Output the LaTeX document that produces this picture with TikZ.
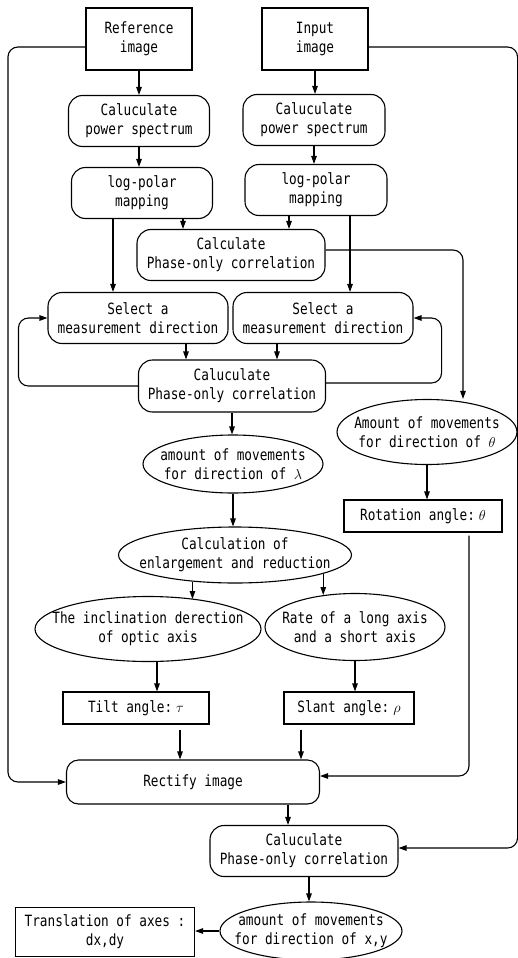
\documentclass[tikz,border=0pt]{standalone}
\usepackage{fontspec}
\newfontfamily\gothic[FakeStretch=0.82]{DejaVu Sans Mono}
\usetikzlibrary{arrows.meta,shapes.geometric}
\begin{document}
\begin{tikzpicture}[x=1pt,y=-1pt,
  font=\gothic\fontsize{15.5}{19}\selectfont,
  line width=1.1pt,
  >={Triangle[length=8pt,width=5.5pt]},
  sbox/.style={draw, rectangle, inner sep=0pt, align=center},
  rbox/.style={sbox, rounded corners=14pt},
  oval/.style={draw, ellipse, inner sep=0pt},
  every label/.style={align=center, inner sep=0pt}]
\useasboundingbox (0,0) rectangle (518,958);

% nodes
\node[sbox, minimum width=106pt, minimum height=62pt] (ref) at (139,39) {Reference\\image};
\node[sbox, minimum width=106pt, minimum height=62pt] (inp) at (315,39) {Input\\image};
\node[rbox, minimum width=141pt, minimum height=51pt] (cps1) at (139,121) {Caluculate\\power spectrum};
\node[rbox, minimum width=142pt, minimum height=51pt] (cps2) at (314,120) {Caluculate\\power spectrum};
\node[rbox, minimum width=141pt, minimum height=51pt] (lp1) at (142,193) {log-polar\\mapping};
\node[rbox, minimum width=142pt, minimum height=51pt] (lp2) at (316,190) {log-polar\\mapping};
\node[rbox, minimum width=188pt, minimum height=51pt] (poc1) at (231,255) {Calculate\\Phase-only correlation};
\node[rbox, minimum width=180pt, minimum height=51pt] (sel1) at (138,318) {Select a\\measurement direction};
\node[rbox, minimum width=180pt, minimum height=51pt] (sel2) at (323,318) {Select a\\measurement direction};
\node[rbox, minimum width=187pt, minimum height=52pt] (poc2) at (232,386) {Caluculate\\Phase-only correlation};
\node[oval, minimum width=180pt, minimum height=58pt,
  label={center:amount of movements\\for direction of $\lambda$}] (lam) at (233,464) {};
\node[oval, minimum width=180pt, minimum height=65pt,
  label={center:Amount of movements\\for direction of $\theta$}] (th) at (427,432) {};
\node[sbox, minimum width=158pt, minimum height=32pt] (rot) at (423,516) {Rotation angle:\hspace{4pt}$\theta$};
\node[oval, minimum width=233pt, minimum height=56pt,
  label={center:Calculation of\\enlargement and reduction}] (cal) at (235,555) {};
\node[oval, minimum width=226pt, minimum height=65pt,
  label={center:The inclination derection\\of optic axis}] (inc) at (148,629) {};
\node[oval, minimum width=180pt, minimum height=67pt,
  label={center:Rate of a long axis\\and a short axis}] (rate) at (355,627) {};
\node[sbox, minimum width=146pt, minimum height=32pt] (tilt) at (136,708) {Tilt angle:\hspace{4pt}$\tau$};
\node[sbox, minimum width=130pt, minimum height=32pt] (slant) at (349,708) {Slant angle:\hspace{4pt}$\rho$};
\node[rbox, rounded corners=12pt, minimum width=253pt, minimum height=44pt] (rect) at (193,782) {Rectify image};
\node[rbox, minimum width=188pt, minimum height=51pt] (poc3) at (304,851) {Caluculate\\Phase-only correlation};
\node[oval, minimum width=182pt, minimum height=58pt,
  label={center:amount of movements\\for direction of x,y}] (xy) at (311,931) {};
\node[sbox, minimum width=179pt, minimum height=49pt] (trans) at (105,932) {Translation of axes :\\dx,dy};

% connectors
\draw[->] (ref.south) -- (ref.south |- cps1.north);
\draw[->] (inp.south) -- (inp.south |- cps2.north);
\draw[->] (cps1.south) -- (cps1.south |- lp1.north);
\draw[->] (cps2.south) -- (cps2.south |- lp2.north);
\draw[->] ([xshift=41pt]lp1.south) -- ([xshift=41pt]lp1.south |- poc1.north);
\draw[->] ([xshift=-27pt]lp2.south) -- ([xshift=-27pt]lp2.south |- poc1.north);
\draw[->] ([xshift=-29pt]lp1.south) -- ([xshift=-29pt]lp1.south |- sel1.north);
\draw[->] ([xshift=34pt]lp2.south) -- ([xshift=34pt]lp2.south |- sel2.north);
\draw[->, rounded corners=10pt] ([yshift=5pt]poc1.east) -| ([xshift=36pt]th.north);
\draw[->] ([xshift=48pt]sel1.south) -- ([xshift=48pt]sel1.south |- poc2.north);
\draw[->] ([xshift=-46pt]sel2.south) -- ([xshift=-46pt]sel2.south |- poc2.north);
\draw[->, rounded corners=10pt] (poc2.west) -| ([xshift=-29pt]sel1.west) -- (sel1.west);
\draw[->, rounded corners=10pt] ([yshift=3pt]poc2.east) -| ([xshift=28pt]sel2.east) -- (sel2.east);
\draw[->] (poc2.south) -- (poc2.south |- lam.north);
\draw[->] (lam.south) -- (lam.south |- cal.north);
\draw[->] (th.south) -- (th.south |- rot.north);
\draw[->] (cal.212.6) -- (cal.212.6 |- inc.32.8);
\draw[->] (cal.348.6) -- (cal.348.6 |- rate.134.5);
\draw[->] ([xshift=9pt]inc.south) -- ([xshift=9pt]inc.south |- tilt.north);
\draw[->] (rate.south) -- (rate.south |- slant.north);
\draw[->] ([xshift=44pt,yshift=-5pt]tilt.south) -- ([xshift=44pt]tilt.south |- rect.north);
\draw[->] ([xshift=-48pt,yshift=-5pt]slant.south) -- ([xshift=-48pt]slant.south |- rect.north);
\draw[->, rounded corners=10pt] ([xshift=46pt,yshift=-3pt]rot.south) |- ([yshift=6pt]rect.east);
\draw[->, rounded corners=10pt] ([yshift=-8pt]ref.west) -| ([xshift=-58pt]rect.west) -- (rect.west);
\draw[->, rounded corners=10pt] ([yshift=-8pt]inp.east) -| ([xshift=119pt,yshift=3pt]poc3.east) -- ([yshift=3pt]poc3.east);
\draw[->] ([xshift=95pt]rect.south) -- ([xshift=95pt]rect.south |- poc3.north);
\draw[->] ([xshift=5pt]poc3.south) -- ([xshift=5pt]poc3.south |- xy.north);
\draw[->] (xy.west) -- (xy.west -| trans.east);
\end{tikzpicture}
\end{document}
